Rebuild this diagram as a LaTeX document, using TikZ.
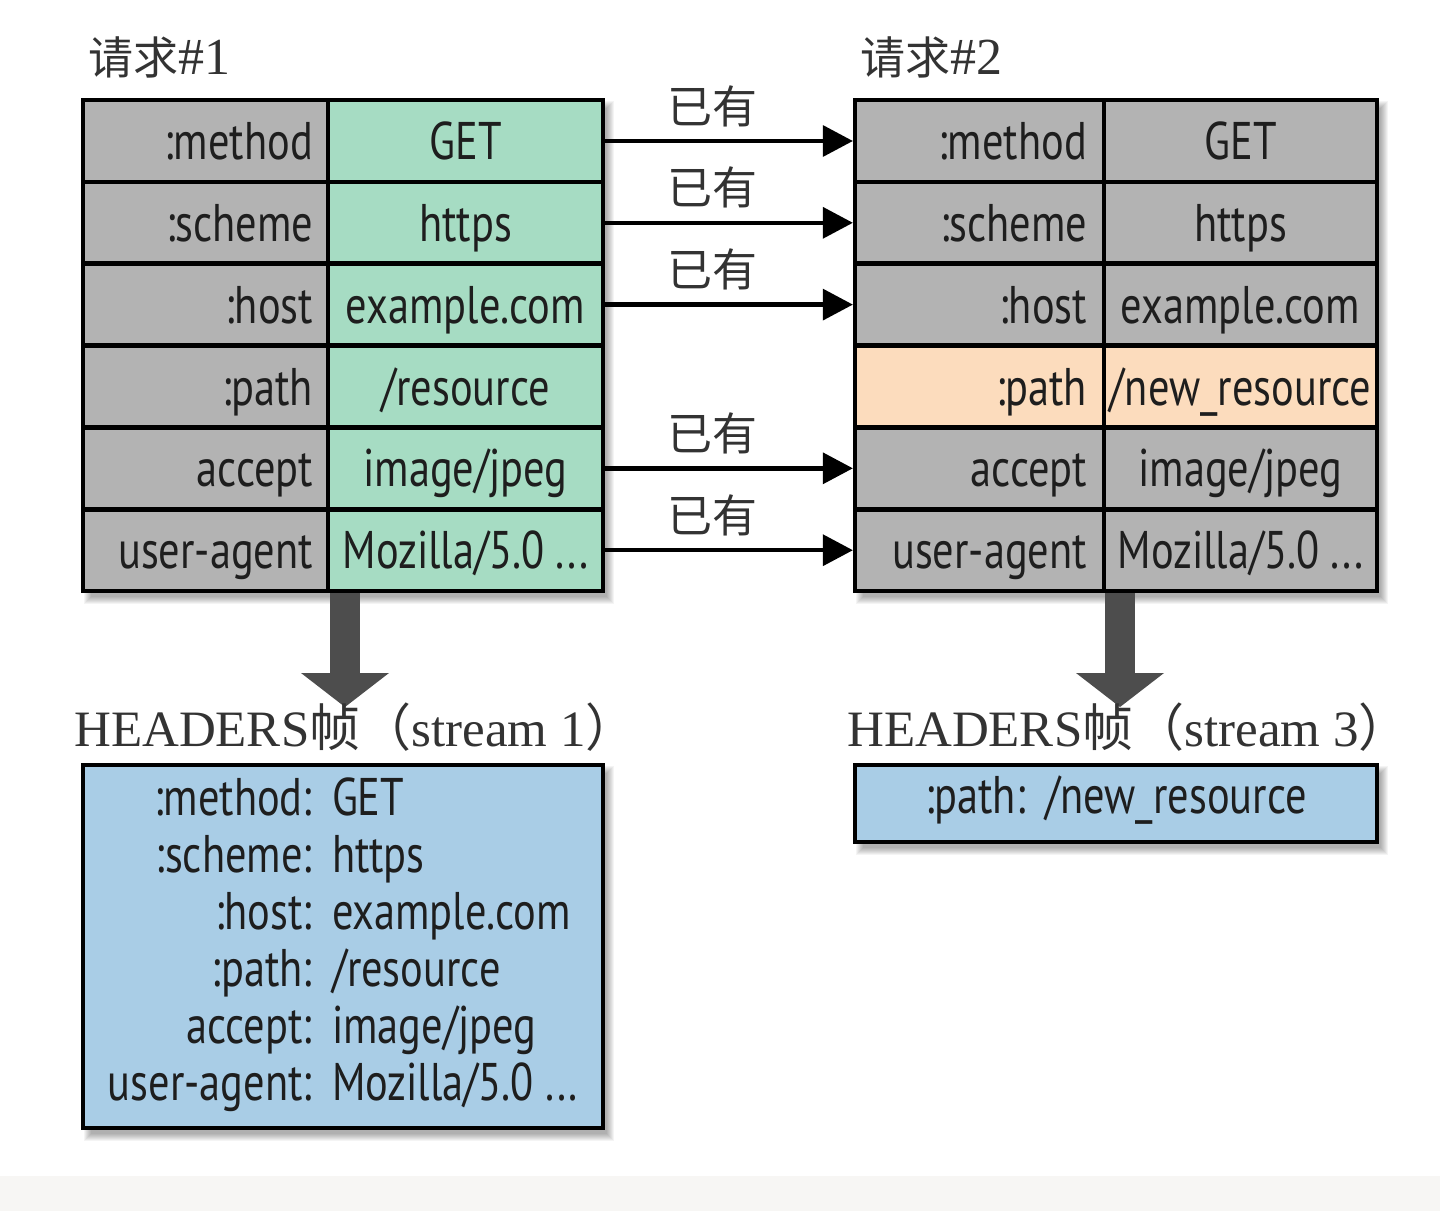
\documentclass[tikz,border=0pt]{standalone}
\usepackage{fontspec}
\setmainfont{Liberation Serif}
\newfontfamily\cellfont[FakeStretch=0.8]{PT Sans}
\newfontfamily\cjk{Noto Sans CJK SC}
\usetikzlibrary{arrows.meta}
\definecolor{cellgray}{HTML}{B3B3B3}
\definecolor{cellgreen}{HTML}{A6DCC3}
\definecolor{cellpeach}{HTML}{FCDCBD}
\definecolor{cellblue}{HTML}{A9CDE6}
\definecolor{txt}{HTML}{1E1E1E}
\definecolor{lbltxt}{HTML}{333333}
\definecolor{bigarr}{HTML}{4D4D4D}
\definecolor{band}{HTML}{F7F6F4}
\newcommand{\softshadow}[4]{%
  \foreach \r in {1,...,8}{%
    \fill[black, opacity=0.045] (#1+9-\r, #2+9-\r) rectangle (#3+3+\r, #4+5+\r);
  }}
\begin{document}
\begin{tikzpicture}[x=1pt,y=-1pt,
  cell/.style={draw=black, line width=4.5pt, inner xsep=0pt, inner ysep=0pt,
    minimum height=81.8pt, text height=37pt, text depth=0pt,
    font=\cellfont\fontsize{53}{57}\selectfont, text=txt},
  keyL/.style={cell, fill=cellgray, minimum width=245pt, text width=215pt, align=right},
  valL/.style={cell, fill=cellgreen, minimum width=275pt},
  keyR/.style={cell, fill=cellgray, minimum width=249pt, text width=215pt, align=right},
  valR/.style={cell, fill=cellgray, minimum width=273pt},
  conn/.style={line width=4.5pt, draw=black, -{Triangle[length=30pt,width=32pt,line width=0pt]}},
  lbl/.style={font=\cjk\fontsize{45}{45}\selectfont, text=lbltxt, inner sep=0pt},
  bigarrow/.style={draw=bigarr, line width=30pt, -{Triangle[length=34pt,width=88pt,line width=0pt]}},
  hdr/.style={font=\fontsize{51}{51}\selectfont, text=lbltxt, inner sep=0pt, anchor=base west},
  title/.style={font=\cjk\fontsize{45}{45}\selectfont, text=lbltxt, inner sep=0pt, anchor=base west},
  frame/.style={draw=black, line width=4.5pt, fill=cellblue, inner sep=0pt,
    font=\cellfont\fontsize{53}{57}\selectfont, text=txt}
]
\useasboundingbox (0,0) rectangle (1440,1211);
\fill[white] (0,0) rectangle (1440,1211);
\fill[band] (0,1176) rectangle (1440,1211);

% shadows
\softshadow{83}{100}{603}{591}
\softshadow{855}{100}{1377}{591}
\softshadow{83}{765}{603}{1128}
\softshadow{855}{765}{1377}{842}

% titles
\node[title] (t1) at (88,74) {请求{\rmfamily\fontsize{52}{52}\selectfont\#1}};
\node[title] (t2) at (860,74) {请求{\rmfamily\fontsize{52}{52}\selectfont\#2}};

% left table
\node[keyL] (kL1) at (205.5,141.0) {:method};
\node[valL] (vL1) at (465.5,141.0) {GET};
\node[keyL] (kL2) at (205.5,222.8) {:scheme};
\node[valL] (vL2) at (465.5,222.8) {https};
\node[keyL] (kL3) at (205.5,304.6) {:host};
\node[valL] (vL3) at (465.5,304.6) {example.com};
\node[keyL] (kL4) at (205.5,386.5) {:path};
\node[valL] (vL4) at (465.5,386.5) {/resource};
\node[keyL] (kL5) at (205.5,468.3) {accept};
\node[valL] (vL5) at (465.5,468.3) {image/jpeg};
\node[keyL] (kL6) at (205.5,550.2) {user-agent};
\node[valL] (vL6) at (465.5,550.2) {Mozilla/5.0 ...};

% right table
\node[keyR] (kR1) at (979.5,141.0) {:method};
\node[valR] (vR1) at (1240.5,141.0) {GET};
\node[keyR] (kR2) at (979.5,222.8) {:scheme};
\node[valR] (vR2) at (1240.5,222.8) {https};
\node[keyR] (kR3) at (979.5,304.6) {:host};
\node[valR] (vR3) at (1240.5,304.6) {example.com};
\node[keyR, fill=cellpeach] (kR4) at (979.5,386.5) {:path};
\node[valR, fill=cellpeach] (vR4) at (1240.5,386.5) {/new\_resource};
\node[keyR] (kR5) at (979.5,468.3) {accept};
\node[valR] (vR5) at (1240.5,468.3) {image/jpeg};
\node[keyR] (kR6) at (979.5,550.2) {user-agent};
\node[valR] (vR6) at (1240.5,550.2) {Mozilla/5.0 ...};

% connectors
\draw[conn] (vL1.east) -- node[lbl, pos=0.435, yshift=35pt] (l1) {已有} (kR1.west);
\draw[conn] (vL2.east) -- node[lbl, pos=0.435, yshift=35pt] (l2) {已有} (kR2.west);
\draw[conn] (vL3.east) -- node[lbl, pos=0.435, yshift=35pt] (l3) {已有} (kR3.west);
\draw[conn] (vL5.east) -- node[lbl, pos=0.435, yshift=35pt] (l5) {已有} (kR5.west);
\draw[conn] (vL6.east) -- node[lbl, pos=0.435, yshift=35pt] (l6) {已有} (kR6.west);

% big arrows
\coordinate (aLs) at (345,593);
\coordinate (aLe) at (345,707);
\coordinate (aRs) at (1120,593);
\coordinate (aRe) at (1120,707);
\draw[bigarrow] (aLs) -- (aLe);
\draw[bigarrow] (aRs) -- (aRe);

% headers labels
\node[hdr] (hL) at (74,746) {HEADERS{\cjk 帧（}stream 1{\cjk ）}};
\node[hdr] (hR) at (847,746) {HEADERS{\cjk 帧（}stream 3{\cjk ）}};

% frames
\node[frame, minimum width=520pt, minimum height=363pt] (fL) at (343,946.5)
  {\begin{tabular}{@{}r@{\hspace{20pt}}l@{}}
   :method: & GET\\
   :scheme: & https\\
   :host: & example.com\\
   :path: & /resource\\
   accept: & image/jpeg\\
   user-agent: & Mozilla/5.0 ...
   \end{tabular}};
\node[frame, minimum width=522pt, minimum height=77pt, text height=37pt, text depth=18pt] (fR) at (1116,803.5)
  {:path:\hspace{20pt}/new\_resource};
\end{tikzpicture}
\end{document}
